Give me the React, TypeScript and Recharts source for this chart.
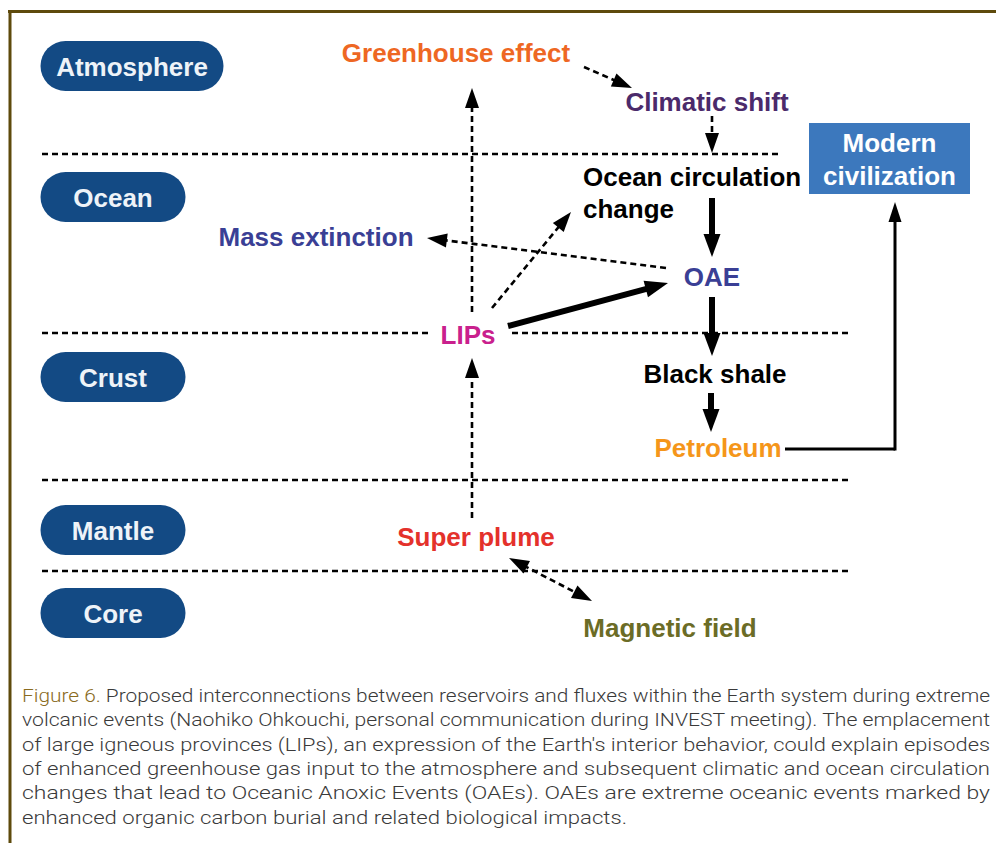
import React from 'react';
import { ScatterChart, Scatter, XAxis, YAxis, ReferenceLine } from 'recharts';

const W = 996;
const H = 843;
const FONT = "'Liberation Sans', Arial, Helvetica, sans-serif";
const CAPTION_FONT = "'Liberation Sans Narrow', Roboto, 'Liberation Sans', sans-serif";

// Earth layers (blue pills on the left)
const layerNames = ['Atmosphere', 'Ocean', 'Crust', 'Mantle', 'Core'];
const layerX = [132, 113, 113, 113, 113];
const layerY = [66, 197, 377, 530, 613];

// dashed boundaries between layers, some split into pieces
const boundaryY = [154, 333, 480, 571];
const boundarySpans = [
  [[42, 780]],
  [[42, 430], [512, 852]],
  [[42, 852]],
  [[42, 852]],
];

// process labels
const nodeLabels = [
  'Greenhouse effect',
  'Climatic shift',
  'Mass extinction',
  'OAE',
  'LIPs',
  'Black shale',
  'Petroleum',
  'Super plume',
  'Magnetic field',
];
const nodeX = [456, 707, 316, 712, 468, 715, 718, 476, 670];
const nodeY = [53, 102, 237, 277, 335, 374, 448, 537, 628];

const nodeColor: Record<string, string> = {
  'Greenhouse effect': '#ee6723',
  'Climatic shift': '#4b2a6b',
  'Mass extinction': '#3a3f95',
  OAE: '#3a3f95',
  LIPs: '#c9208d',
  'Black shale': '#000000',
  Petroleum: '#f5961a',
  'Super plume': '#e4312b',
  'Magnetic field': '#6b6c26',
};

// left-aligned two-line label
const circulationLines = ['Ocean circulation', 'change'];
const circulationX = 583;
const circulationY = [177, 209];

// box on the right
const civLines = ['Modern', 'civilization'];
const civX = 889.5;
const civY = 158.5;

// arrows: [x1, y1] -> [x2, y2]
type Kind = 'dashed' | 'thick' | 'thin' | 'plain' | 'double';
const links: { from: [number, number]; to: [number, number]; kind: Kind }[] = [
  { from: [472, 312], to: [472, 88], kind: 'dashed' },
  { from: [584, 67], to: [632, 88], kind: 'dashed' },
  { from: [712, 116], to: [712, 153], kind: 'dashed' },
  { from: [712, 198], to: [712, 257], kind: 'thick' },
  { from: [712, 297], to: [712, 356], kind: 'thick' },
  { from: [711, 393], to: [711, 432], kind: 'thick' },
  { from: [785, 449], to: [895, 449], kind: 'plain' },
  { from: [895, 450.5], to: [895, 202], kind: 'thin' },
  { from: [508, 326], to: [668, 283], kind: 'thick' },
  { from: [492, 308], to: [571, 212], kind: 'dashed' },
  { from: [666, 268], to: [427, 238], kind: 'dashed' },
  { from: [472, 518], to: [472, 358], kind: 'dashed' },
  { from: [509, 558], to: [592, 601], kind: 'double' },
];

const captionLines = [
  'Figure 6. Proposed interconnections between reservoirs and fluxes within the Earth system during extreme',
  'volcanic events (Naohiko Ohkouchi, personal communication during INVEST meeting). The emplacement',
  "of large igneous provinces (LIPs), an expression of the Earth's interior behavior, could explain episodes",
  'of enhanced greenhouse gas input to the atmosphere and subsequent climatic and ocean circulation',
  'changes that lead to Oceanic Anoxic Events (OAEs). OAEs are extreme oceanic events marked by',
  'enhanced organic carbon burial and related biological impacts.',
];
const captionX = 22;
const captionY = [695, 719, 744, 768, 792, 817];
const captionWidth = [968, 968, 968, 968, 968, 605];

const arrowStyle: Record<Kind, { w: number; dash?: string; headLen: number; headW: number; start: boolean; end: boolean }> = {
  dashed: { w: 2.6, dash: '6 4', headLen: 20, headW: 14, start: false, end: true },
  double: { w: 2.6, dash: '6 4', headLen: 20, headW: 14, start: true, end: true },
  thick: { w: 6, headLen: 23, headW: 17, start: false, end: true },
  thin: { w: 3, headLen: 20, headW: 13, start: false, end: true },
  plain: { w: 3, headLen: 0, headW: 0, start: false, end: false },
};

function Arrow(props: any) {
  const { x1, y1, x2, y2, kind } = props;
  const st = arrowStyle[kind as Kind];
  const dx = x2 - x1;
  const dy = y2 - y1;
  const len = Math.hypot(dx, dy) || 1;
  const ux = dx / len;
  const uy = dy / len;
  const head = (tx: number, ty: number, vx: number, vy: number) => {
    const bx = tx - vx * st.headLen;
    const by = ty - vy * st.headLen;
    const px = -vy * (st.headW / 2);
    const py = vx * (st.headW / 2);
    return `${tx},${ty} ${bx + px},${by + py} ${bx - px},${by - py}`;
  };
  const sx = st.start ? x1 + ux * st.headLen * 0.8 : x1;
  const sy = st.start ? y1 + uy * st.headLen * 0.8 : y1;
  const ex = st.end ? x2 - ux * st.headLen * 0.8 : x2;
  const ey = st.end ? y2 - uy * st.headLen * 0.8 : y2;
  return (
    <g>
      <line x1={sx} y1={sy} x2={ex} y2={ey} stroke="#000" strokeWidth={st.w} strokeDasharray={st.dash} />
      {st.end && <polygon points={head(x2, y2, ux, uy)} fill="#000" />}
      {st.start && <polygon points={head(x1, y1, -ux, -uy)} fill="#000" />}
    </g>
  );
}

const layerData = layerNames.map((label, i) => ({ x: layerX[i], y: layerY[i], label }));
const nodeData = nodeLabels.map((label, i) => ({ x: nodeX[i], y: nodeY[i], label }));
const circulationData = circulationLines.map((label, i) => ({ x: circulationX, y: circulationY[i], label }));
const civData = [{ x: civX, y: civY, label: civLines.join(' ') }];
const captionData = captionLines.map((label, i) => ({ x: captionX, y: captionY[i], label, width: captionWidth[i] }));

function Pill(props: any) {
  const { cx, cy, payload } = props;
  const w = Math.max(145, payload.label.length * 18.3);
  const h = 50;
  return (
    <g>
      <rect x={cx - w / 2} y={cy - h / 2} width={w} height={h} rx={25} ry={25} fill="#134a84" />
      <text x={cx} y={cy + 1} textAnchor="middle" dominantBaseline="central" fill="#eef3f8" fontFamily={FONT} fontWeight="bold" fontSize={26}>
        {payload.label}
      </text>
    </g>
  );
}

function NodeLabel(props: any) {
  const { cx, cy, payload } = props;
  return (
    <text x={cx} y={cy} textAnchor="middle" dominantBaseline="central" fill={nodeColor[payload.label]} fontFamily={FONT} fontWeight="bold" fontSize={26}>
      {payload.label}
    </text>
  );
}

function LeftLabel(props: any) {
  const { cx, cy, payload } = props;
  return (
    <text x={cx} y={cy} textAnchor="start" dominantBaseline="central" fill="#000" fontFamily={FONT} fontWeight="bold" fontSize={26}>
      {payload.label}
    </text>
  );
}

function CivBox(props: any) {
  const { cx, cy } = props;
  const w = 161;
  const h = 71;
  return (
    <g>
      <rect x={cx - w / 2} y={cy - h / 2} width={w} height={h} fill="#3c78bd" />
      {civLines.map((t, i) => (
        <text key={t} x={cx} y={cy - 16 + i * 33} textAnchor="middle" dominantBaseline="central" fill="#ffffff" fontFamily={FONT} fontWeight="bold" fontSize={26}>
          {t}
        </text>
      ))}
    </g>
  );
}

function CaptionLine(props: any) {
  const { cx, cy, payload } = props;
  const text: string = payload.label;
  const isFirst = text.startsWith('Figure 6.');
  return (
    <text
      x={cx}
      y={cy}
      dominantBaseline="central"
      fill="#3a3a3a"
      fontFamily={CAPTION_FONT}
      fontWeight={300}
      fontSize={19}
      textLength={payload.width}
      lengthAdjust="spacingAndGlyphs"
    >
      {isFirst ? (
        <>
          <tspan fill="#8a6b1e">Figure 6.</tspan>
          {text.slice('Figure 6.'.length)}
        </>
      ) : (
        text
      )}
    </text>
  );
}

export default function App() {
  return (
    <div style={{ position: 'absolute', left: 0, top: 0, width: W, height: H, background: '#fff' }}>
      <ScatterChart width={W} height={H} margin={{ top: 0, right: 0, bottom: 0, left: 0 }}>
        <XAxis type="number" dataKey="x" domain={[0, W]} allowDataOverflow hide />
        <YAxis type="number" dataKey="y" domain={[0, H]} reversed allowDataOverflow hide />

        {/* frame */}
        <ReferenceLine segment={[{ x: 8, y: 11.5 }, { x: W, y: 11.5 }]} stroke="#5e4a0c" strokeWidth={3} ifOverflow="visible" />
        <ReferenceLine segment={[{ x: 10, y: 10 }, { x: 10, y: H }]} stroke="#5e4a0c" strokeWidth={3} ifOverflow="visible" />

        {/* layer boundaries */}
        {boundaryY.flatMap((y, i) =>
          boundarySpans[i].map(([a, b], j) => (
            <ReferenceLine
              key={`b${i}-${j}`}
              segment={[{ x: a, y }, { x: b, y }]}
              stroke="#000"
              strokeWidth={2.6}
              strokeDasharray="6 4"
              ifOverflow="visible"
            />
          ))
        )}

        {/* arrows */}
        {links.map((l, i) => (
          <ReferenceLine
            key={`l${i}`}
            segment={[{ x: l.from[0], y: l.from[1] }, { x: l.to[0], y: l.to[1] }]}
            ifOverflow="visible"
            shape={(p: any) => <Arrow {...p} kind={l.kind} />}
          />
        ))}

        <Scatter data={layerData} shape={Pill} isAnimationActive={false} />
        <Scatter data={nodeData} shape={NodeLabel} isAnimationActive={false} />
        <Scatter data={circulationData} shape={LeftLabel} isAnimationActive={false} />
        <Scatter data={civData} shape={CivBox} isAnimationActive={false} />
        <Scatter data={captionData} shape={CaptionLine} isAnimationActive={false} />
      </ScatterChart>
    </div>
  );
}
